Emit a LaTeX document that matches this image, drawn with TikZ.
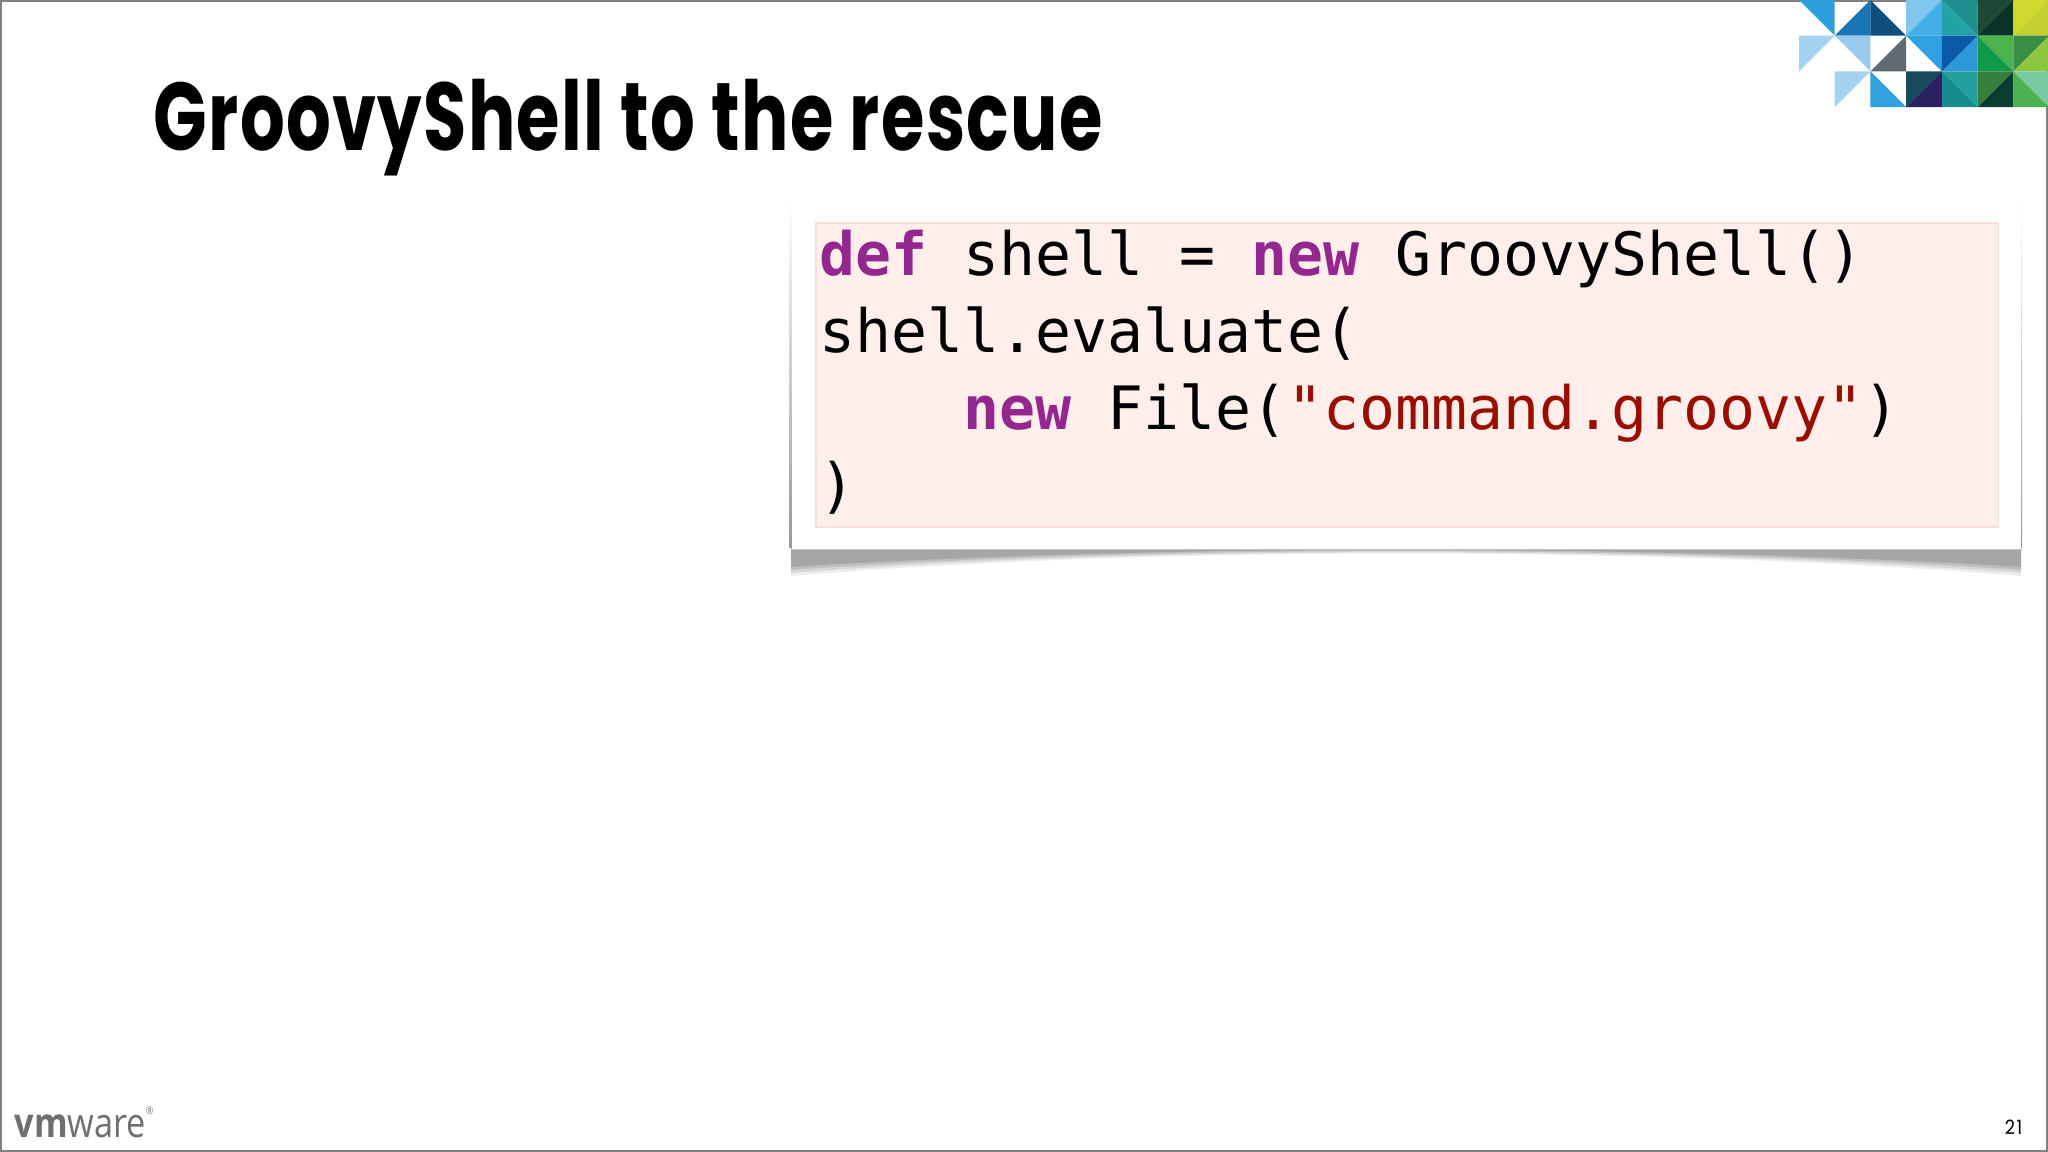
\documentclass[tikz,border=0pt]{standalone}
\usepackage{fontspec}
\usepackage{tikz}
\usetikzlibrary{positioning}
\setmainfont{Poppins}
\newfontfamily\titlefont[FakeStretch=0.73,LetterSpace=1.4]{Poppins Bold}
\newfontfamily\numfont[FakeStretch=0.9,LetterSpace=8]{Poppins}
\newfontfamily\codefont{DejaVu Sans Mono}
\newfontfamily\logofont[FakeStretch=0.84]{Open Sans}
\definecolor{keyword}{HTML}{93278F}
\definecolor{strlit}{HTML}{990E00}
\definecolor{codebg}{HTML}{FFEEE9}
\definecolor{codeedge}{HTML}{F6E0D8}
\definecolor{logogray}{HTML}{6F6F6F}
\begin{document}
\begin{tikzpicture}[
    x=0.01cm,y=-0.01cm,
    slidetitle/.style={font=\titlefont\fontsize{27.4}{30}\selectfont,inner sep=0pt,anchor=base west},
    codeline/.style={font=\codefont\fontsize{17}{20}\selectfont,inner sep=0pt,text height=0.55cm,text depth=0.205cm,anchor=north west},
    codebox/.style={rectangle,draw=codeedge,fill=codebg,line width=0.5pt,anchor=north west,inner sep=0pt,minimum width=11.82cm,minimum height=3.04cm},
    panel/.style={rectangle,fill=white,anchor=north west,inner sep=0pt,minimum width=12.29cm,minimum height=3.48cm},
    node distance=0pt
]
    \useasboundingbox (0,0) rectangle (2048,1152);
    \fill[white] (0,0) rectangle (2048,1152);
    \draw[gray,line width=0.5pt] (1,1) rectangle (2047,1151);

    % mosaic
    \begin{scope}[shift={(1799,0)},x=0.357cm,y=-0.357cm]
        \foreach \ax/\ay/\bx/\by/\cx/\cy/\col in {
            0/0/1/0/1/1/2A9FDC, 1/1/2/0/2/1/1A75B5, 2/0/2/1/3/1/0F4F80,
            3/0/4/0/3/1/7FC7EF, 4/0/4/1/3/1/44AFE6, 4/0/5/0/5/1/1F8F8F, 4/0/4/1/5/1/22A3A3,
            5/0/6/0/5/1/1C4A35, 6/0/6/1/5/1/0C3327, 6/0/7/0/6/1/D0D82F, 7/0/7/1/6/1/C4CF30,
            0/1/1/1/0/2/A3D3EF, 1/1/2/1/2/2/98CBEB, 2/2/3/1/3/2/5F6A72, 3/1/4/1/4/2/2EA1DE,
            4/1/5/1/4/2/0B5AA8, 5/1/5/2/4/2/2D97D8, 5/1/6/1/6/2/4DB34E, 5/1/5/2/6/2/0F9B48,
            6/1/7/1/6/2/3A8D44, 7/1/7/2/6/2/8CC63F,
            1/2/2/2/1/3/A3D3EF, 2/2/3/3/2/3/2EA1DE, 3/2/4/2/3/3/174A5A, 4/2/4/3/3/3/2A2160,
            4/2/5/2/5/3/22A0A0, 4/2/4/3/5/3/168C8C, 5/2/6/2/5/3/357F3C, 6/2/6/3/5/3/0C3D33,
            6/2/7/2/7/3/78C8A0, 6/2/6/3/7/3/4BB04F}{
            \definecolor{tricol}{HTML}{\col}
            \fill[tricol] (\ax,\ay) -- (\bx,\by) -- (\cx,\cy) -- cycle;
        }
    \end{scope}

    \node[slidetitle] (title) at (153,151) {GroovyShell to the rescue};

    % panel shadow
    \foreach \d/\o in {0/0.07,3/0.09,6/0.11,9/0.13}{
        \fill[black,opacity=\o] (791,548) -- (2021,548) -- (2021,{576-\d})
            .. controls (1650,{546-\d*0.2}) and (1150,{546-\d*0.2}) .. (791,{576-\d}) -- cycle;
    }
    \shade[top color=white,bottom color=black!40] (789,198) rectangle (792,548);
    \shade[top color=white,bottom color=black!40] (2019,198) rectangle (2022,548);

    \node[panel] (panel) at (791,200) {};
    \draw[black!25,line width=0.5pt] (panel.south west) -- (panel.south east);
    \node[codebox] (codearea) at (815,222) {};

    \node[codeline] (line1) at (819,220) {\textcolor{keyword}{\textbf{def}} shell = \textcolor{keyword}{\textbf{new}} GroovyShell()};
    \node[codeline,below=of line1.south west,anchor=north west] (line2) {shell.evaluate(};
    \node[codeline,below=of line2.south west,anchor=north west] (line3) {\ \ \ \ \textcolor{keyword}{\textbf{new}} File(\textcolor{strlit}{"command.groovy"})};
    \node[codeline,below=of line3.south west,anchor=north west] (line4) {)};

    \node[font=\logofont\fontsize{11.6}{14}\selectfont,text=logogray,inner sep=0pt,anchor=base west] (logo) at (14,1137) {\textbf{vm}ware\raisebox{0.55em}{\fontsize{3}{4}\selectfont ®}};
    \node[font=\numfont\fontsize{5.6}{6}\selectfont,inner sep=0pt,anchor=base east] (pagenum) at (2023,1134) {21};
\end{tikzpicture}
\end{document}
